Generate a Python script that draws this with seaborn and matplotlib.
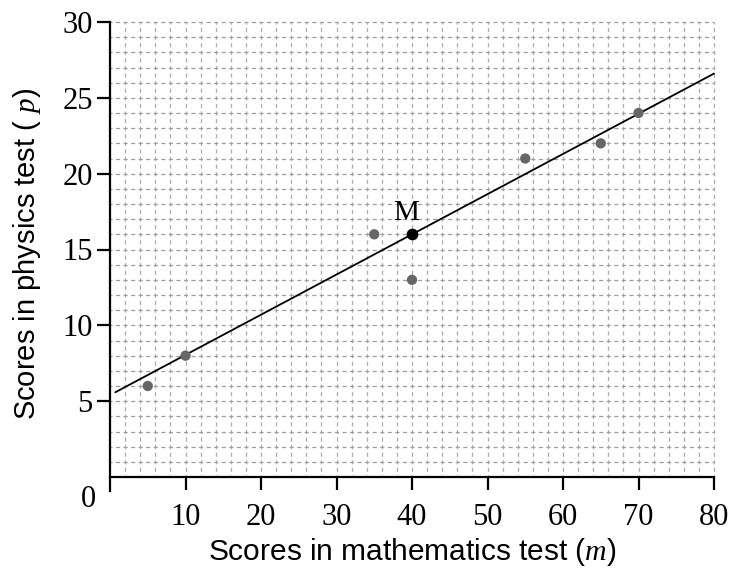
import matplotlib
matplotlib.use("Agg")
import matplotlib.pyplot as plt
import numpy as np
import pandas as pd
import seaborn as sns

# dades llegides del gràfic
maths = [5, 10, 35, 40, 55, 65, 70]
physics = [6, 8, 16, 13, 21, 22, 24]
mean_point = (40, 16)
mean_label = "M"
slope = 0.265
line_start, line_end = 0.7, 80
x_ticks = [10, 20, 30, 40, 50, 60, 70, 80]
y_ticks = [5, 10, 15, 20, 25, 30]

sns.set_style("white")
plt.rcParams["font.family"] = ["Liberation Serif", "DejaVu Serif"]
plt.rcParams["text.color"] = "black"
plt.rcParams["axes.labelcolor"] = "black"
plt.rcParams["mathtext.fontset"] = "custom"
plt.rcParams["mathtext.it"] = "Liberation Serif:italic"
plt.rcParams["mathtext.rm"] = "Liberation Serif"

W, H = 734, 574
xlim = (-0.5, 80.6)
ylim = (-0.9, 30.3)
# píxels on cauen x=0, x=80, y=0, y=30 a la referència
px_x0, px_x80, px_y0, px_y30 = 110, 714, 477, 22
sx = (px_x80 - px_x0) / 80
sy = (px_y0 - px_y30) / 30
left = (px_x0 + xlim[0] * sx) / W
width = (xlim[1] - xlim[0]) * sx / W
bottom = (H - (px_y0 - ylim[0] * sy)) / H
height = (ylim[1] - ylim[0]) * sy / H

fig = plt.figure(figsize=(W / 100, H / 100), dpi=100)
ax = fig.add_axes([left, bottom, width, height])

# graella de fons (discontínua, amb creuetes a les interseccions)
lw_grid = 0.9
per_h = sx * 2 / 2 * 0.72 / lw_grid   # període en unitats de gruix
per_v = sy / 2 * 0.72 / lw_grid
dh = per_h * 0.55
dv = per_v * 0.55
for gx in np.arange(2, 81, 2):
    ax.plot([gx, gx], [0, 30], color="#adadad", lw=lw_grid,
            ls=(dv / 2, (dv, per_v - dv)), zorder=0)
for gy in np.arange(1, 31, 1):
    ax.plot([0, 80], [gy, gy], color="#9e9e9e", lw=lw_grid,
            ls=(dh / 2, (dh, per_h - dh)), zorder=0)

# recta de regressió per M
line_x = np.array([line_start, line_end])
line_df = pd.DataFrame({"m": line_x, "p": mean_point[1] + slope * (line_x - mean_point[0])})
sns.lineplot(data=line_df, x="m", y="p", ax=ax, color="black", lw=1.3, zorder=2)

# punts
df = pd.DataFrame({"m": maths, "p": physics})
sns.scatterplot(data=df, x="m", y="p", ax=ax, color="#666666", s=55,
                edgecolor="none", zorder=3)
ax.scatter([mean_point[0]], [mean_point[1]], color="black", s=55, zorder=4)
ax.text(mean_point[0] - 0.8, mean_point[1] + 0.55, mean_label, fontsize=21,
        ha="center", va="bottom", color="black")

# eixos
ax.set_xlim(*xlim)
ax.set_ylim(*ylim)
for s in ["top", "right"]:
    ax.spines[s].set_visible(False)
ax.spines["left"].set_position(("data", 0))
ax.spines["bottom"].set_position(("data", 0))
ax.spines["left"].set_bounds(-0.9, 30)
ax.spines["bottom"].set_bounds(0, 80)
for s in ["left", "bottom"]:
    ax.spines[s].set_linewidth(1.6)
    ax.spines[s].set_color("black")

ax.set_xticks(x_ticks)
ax.set_yticks(y_ticks)
ax.tick_params(axis="both", bottom=True, left=True, direction="out",
               length=9.5, width=1.6, labelsize=22, colors="black")
ax.tick_params(axis="x", pad=9)
ax.tick_params(axis="y", pad=3)
ax.text(-2.8, -1.5, "0", fontsize=22, ha="center", va="center", color="black")

ax.set_xlabel("Scores in mathematics test ($\\mathit{m}$)", fontsize=21.5,
              family="Liberation Sans", labelpad=3, color="black")
ax.set_ylabel("Scores in physics test ( $\\mathit{p}$)", fontsize=21,
              family="Liberation Sans", labelpad=14, color="black")

fig.savefig("out.png", dpi=100)
